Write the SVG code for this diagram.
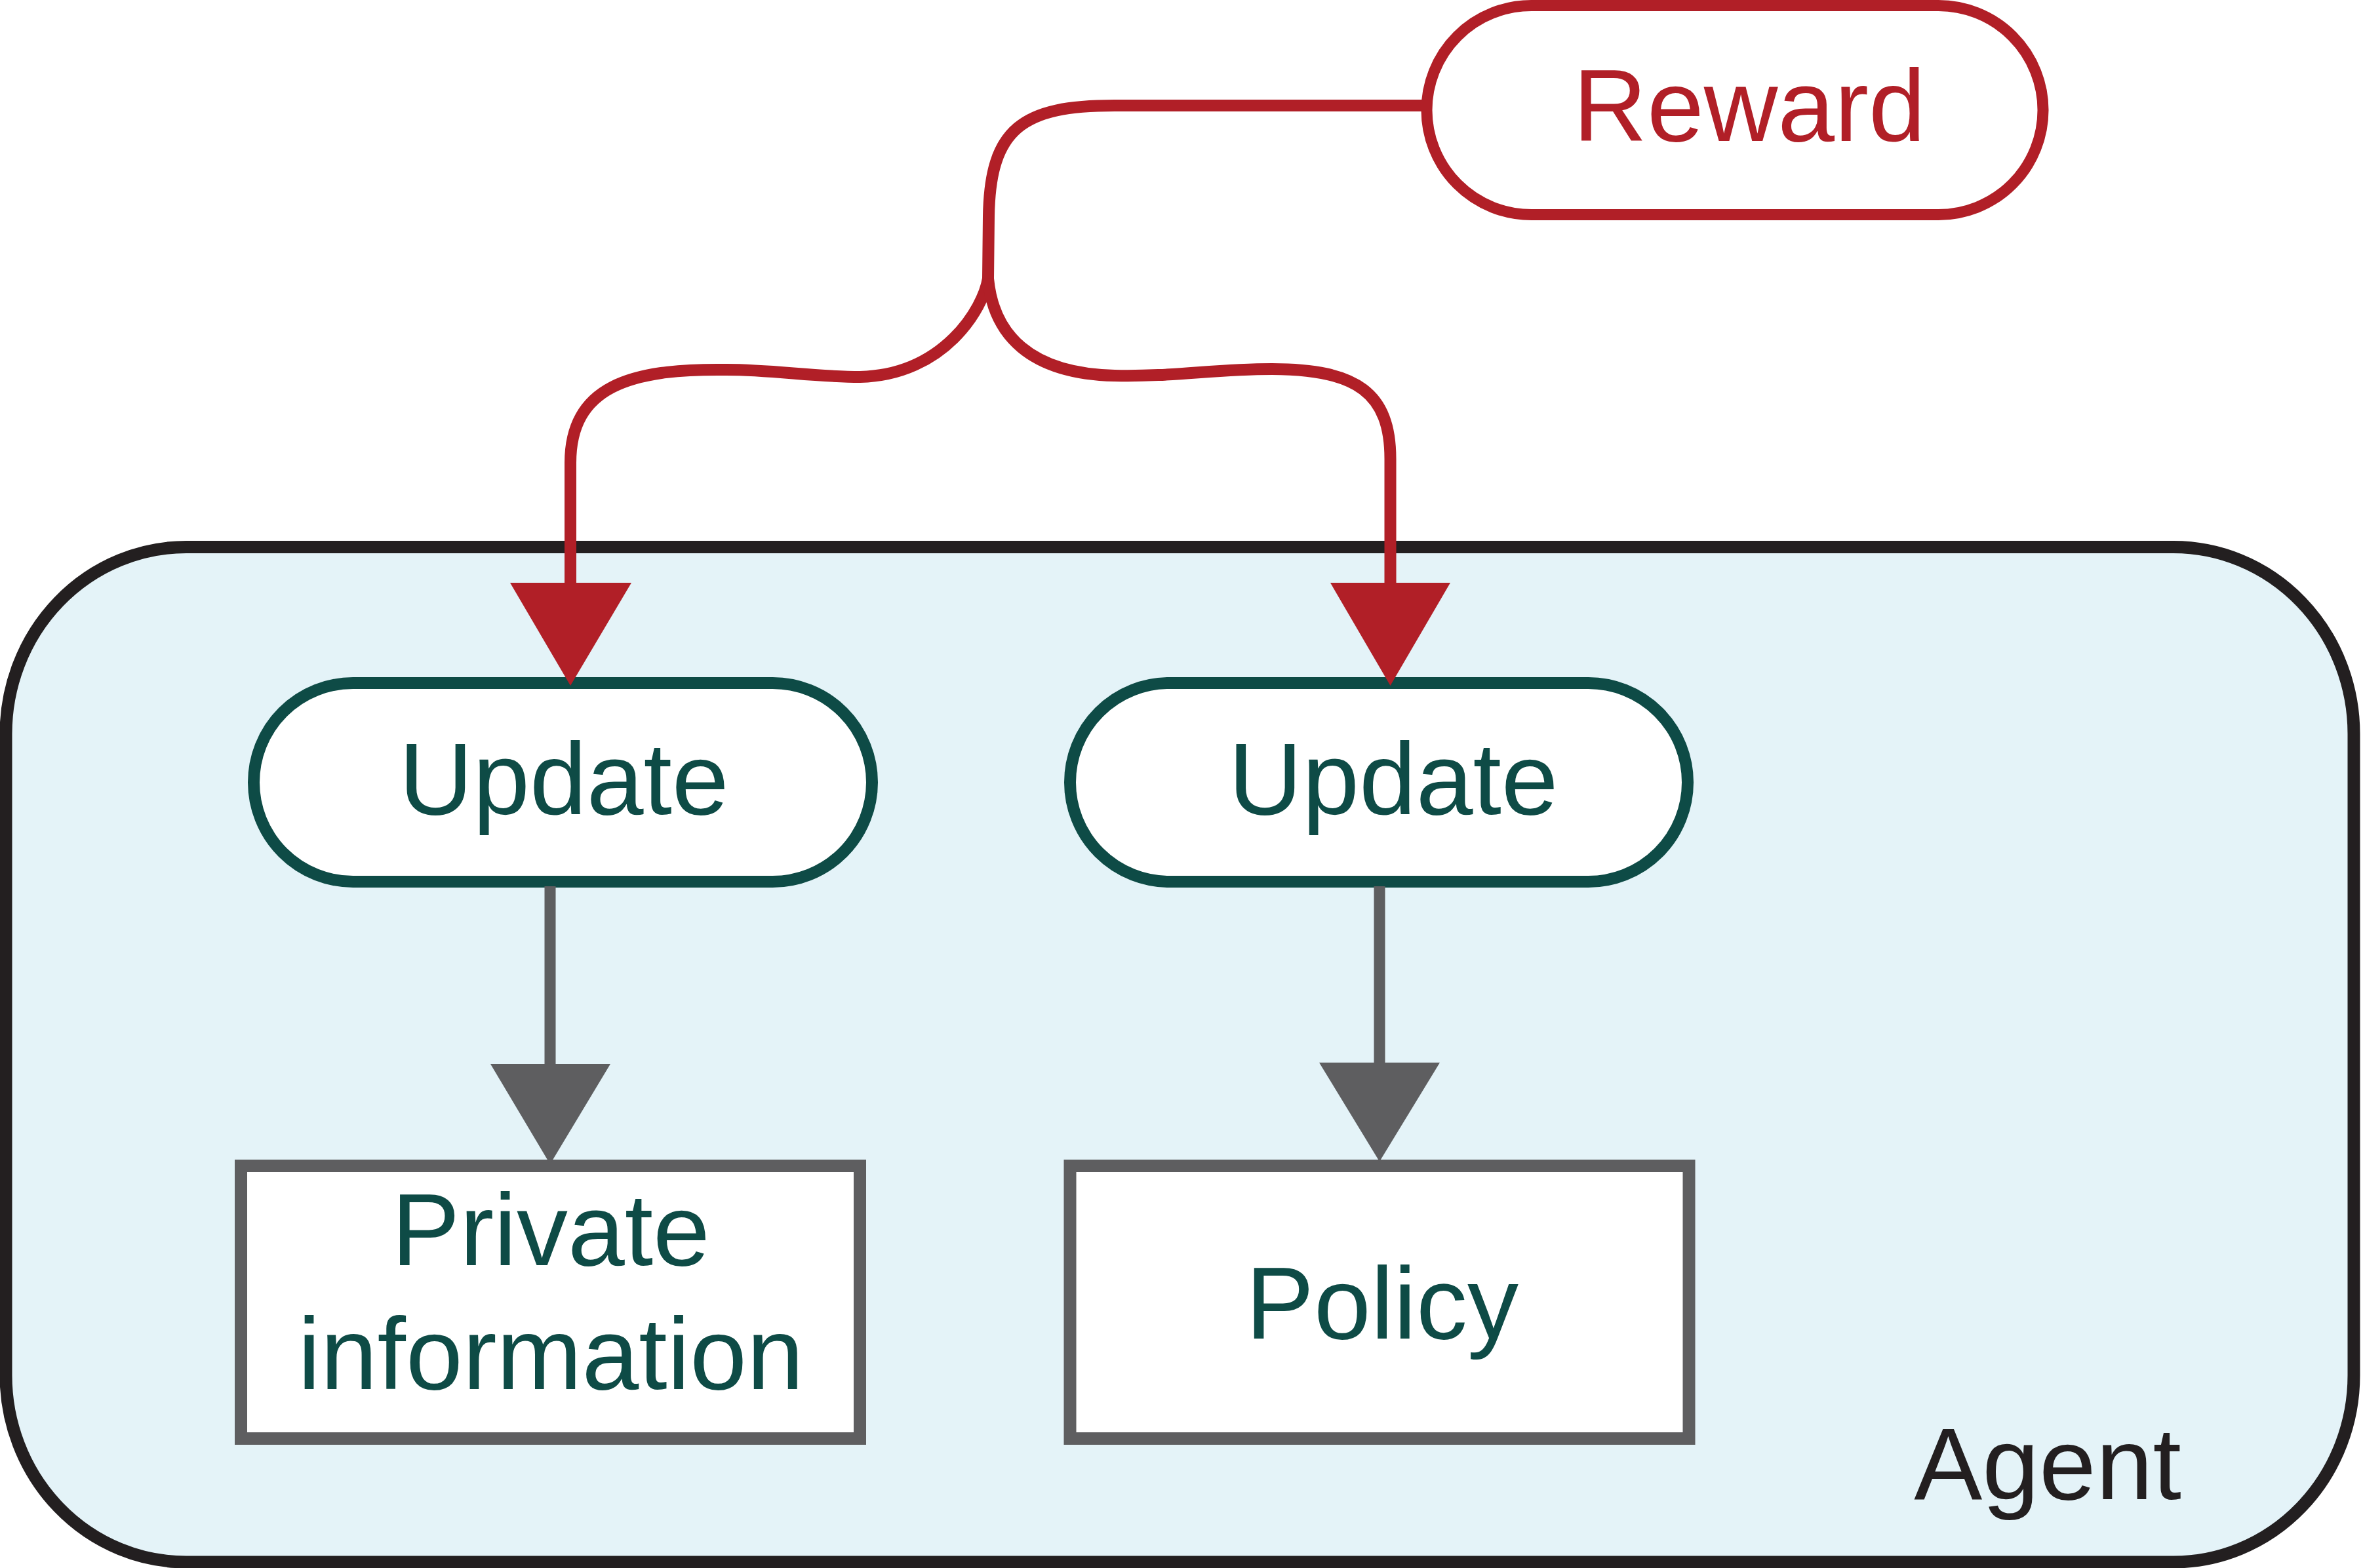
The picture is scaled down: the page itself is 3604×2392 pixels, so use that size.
<svg xmlns="http://www.w3.org/2000/svg" width="3604" height="2392" viewBox="0 0 3604 2392">
<defs>
<style>
.lbl{font-family:"Liberation Sans",Arial,sans-serif;font-size:156px;text-anchor:middle}
.teal{fill:#0e4b46}
.red{fill:#b11f27}
.blk{fill:#231f20}
.pill{fill:#ffffff;stroke:#0e4b46;stroke-width:18}
.box{fill:#ffffff;stroke:#5e5e60;stroke-width:19}
.rline{fill:none;stroke:#b11f27;stroke-width:18}
.gline{fill:none;stroke:#5e5e60;stroke-width:17}
</style>
</defs>
<rect width="3604" height="2392" fill="#ffffff"/>
<g id="agent">
<rect x="9" y="834.5" width="3581" height="1548.5" rx="275" ry="285" fill="#e4f3f8" stroke="#231f20" stroke-width="19"/>
<text class="lbl blk" x="3123" y="2287">Agent</text>
</g>
<g id="reward">
<rect x="2176" y="8.5" width="940" height="319" rx="159.5" fill="#ffffff" stroke="#b11f27" stroke-width="17"/>
<text class="lbl red" x="2668" y="215">Reward</text>
</g>
<g id="update1">
<rect class="pill" x="387" y="1042" width="943" height="303" rx="151.5"/>
<text class="lbl teal" x="860" y="1242">Update</text>
</g>
<g id="update2">
<rect class="pill" x="1632" y="1042" width="942" height="303" rx="151.5"/>
<text class="lbl teal" x="2125" y="1242">Update</text>
</g>
<g id="private">
<rect class="box" x="367.5" y="1778.5" width="944" height="416"/>
<text class="lbl teal" x="840" y="1930">Private</text>
<text class="lbl teal" x="840" y="2119">information</text>
</g>
<g id="policy">
<rect class="box" x="1632" y="1778.5" width="944" height="416"/>
<text class="lbl teal" x="2108" y="2042">Policy</text>
</g>
<g id="connectors">
<path class="rline" d="M2176 161 L1700 161 C1560 161 1510 195 1508 330 L1507 425"/>
<path class="rline" d="M1507 425 C1500 470 1440 572 1312 575 C1240 575 1180 564 1108 564 C960 562 870 590 870 706 L870 892"/>
<path class="rline" d="M1507 425 C1515 510 1570 570 1700 573 C1790 575 1850 563 1940 563 C2070 563 2120.5 600 2120.5 700 L2120.5 892"/>
<polygon points="778,889 963,889 870,1046" fill="#b11f27"/>
<polygon points="2029,889 2212,889 2120.5,1046" fill="#b11f27"/>
<path class="gline" d="M839 1352 L839 1626"/>
<path class="gline" d="M2104 1352 L2104 1624"/>
<polygon points="748,1623 931,1623 839,1776" fill="#5e5e60"/>
<polygon points="2012,1621 2196,1621 2104,1772" fill="#5e5e60"/>
</g>
</svg>
